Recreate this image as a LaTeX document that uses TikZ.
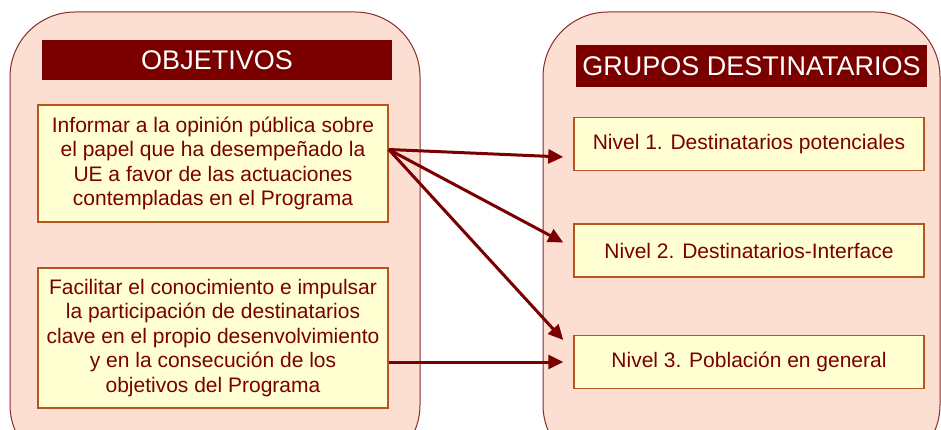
\documentclass[tikz,border=0pt]{standalone}
\usepackage{fontspec}
\setmainfont{Liberation Sans}
\usetikzlibrary{arrows.meta}
\definecolor{dred}{HTML}{7A0000}
\definecolor{pinkbg}{HTML}{FDDED3}
\definecolor{ybox}{HTML}{FFFFD2}
\definecolor{bborder}{HTML}{B4561E}
\definecolor{cborder}{HTML}{8E2A2A}
\tikzset{
  container/.style={draw=cborder, line width=1pt, fill=pinkbg, rounded corners=65pt},
  header/.style={fill=dred, text=white, inner sep=0pt, font=\fontsize{27}{30}\selectfont},
  obox/.style={draw=bborder, line width=1.5pt, fill=ybox, text=dred, inner sep=0pt, align=center, font=\fontsize{21}{24.5}\selectfont},
  conn/.style={draw=dred, line width=3pt, -{Triangle[length=15pt,width=14pt]}}
}
\begin{document}
\begin{tikzpicture}[x=1pt,y=-1pt]
\useasboundingbox (0,0) rectangle (941,430);
\path[container] (10,12) rectangle (420,470);
\path[container] (543,12) rectangle (940,470);
\node[header, minimum width=350pt, minimum height=40pt] (h1) at (217,60) {OBJETIVOS};
\node[header, minimum width=351pt, minimum height=42pt] (h2) at (751.5,66) {GRUPOS DESTINATARIOS};
\node[obox, minimum width=350pt, minimum height=117pt] (b1) at (213,163.5) {Informar a la opinión pública sobre\\el papel que ha desempeñado la\\UE a favor de las actuaciones\\contempladas en el Programa};
\node[obox, minimum width=350pt, minimum height=140pt] (b2) at (213,338) {Facilitar el conocimiento e impulsar\\la participación de destinatarios\\clave en el propio desenvolvimiento\\y en la consecución de los\\objetivos del Programa};
\node[obox, minimum width=350pt, minimum height=53pt] (n1) at (749,144) {Nivel 1. Destinatarios potenciales};
\node[obox, minimum width=350pt, minimum height=53pt] (n2) at (749,250.5) {Nivel 2. Destinatarios-Interface};
\node[obox, minimum width=350pt, minimum height=53pt] (n3) at (749,362) {Nivel 3. Población en general};
\coordinate (src) at ([yshift=14pt]b1.east);
\coordinate (t1) at ([xshift=-10pt,yshift=-13pt]n1.west);
\coordinate (t2) at ([xshift=-10pt,yshift=8pt]n2.west);
\coordinate (t3) at ([xshift=-10pt,yshift=22pt]n3.west);
\coordinate (s4) at (b2.east |- n3.west);
\coordinate (t4) at ([xshift=-10pt]n3.west);
\draw[conn] (src) -- (t1);
\draw[conn] (src) -- (t2);
\draw[conn] (src) -- (t3);
\draw[conn] (s4) -- (t4);
\end{tikzpicture}
\end{document}
